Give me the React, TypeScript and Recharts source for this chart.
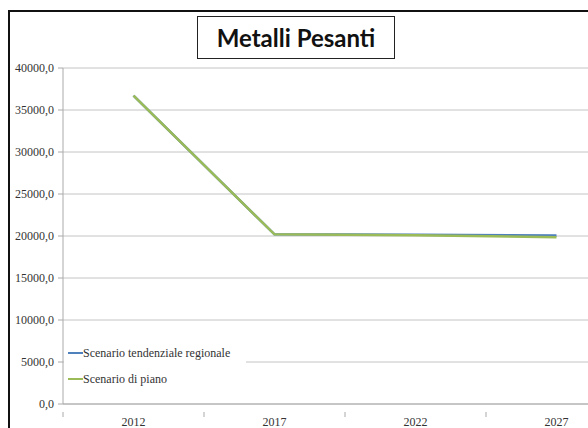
import React from 'react';
import { LineChart, Line, XAxis, YAxis, CartesianGrid, Legend } from 'recharts';

// anni e scenari (t)
const years = [2012, 2017, 2022, 2027];
const tendenziale = [36700, 20200, 20150, 20050];
const piano = [36700, 20200, 20100, 19850];
const yTicks = [0, 5000, 10000, 15000, 20000, 25000, 30000, 35000, 40000];
// limiti delle categorie sull'asse x (tacche tra un anno e l'altro)
const xDividers = [2009.5, 2014.5, 2019.5, 2024.5];

const BLUE = '#4f81bd';
const GREEN = '#9bbb59';
const SERIF = '"Liberation Serif", "Times New Roman", serif';

const data = years.map((y, i) => ({ year: y, tend: tendenziale[i], piano: piano[i] }));
const xTicks = [...xDividers, ...years].sort((a, b) => a - b);

const fmt = (v: number) => v.toFixed(1).replace('.', ',');

function XTick(props: any) {
  const { x, y, payload } = props;
  const v = payload.value as number;
  if (v % 1 !== 0) {
    return <line x1={x} x2={x} y1={y} y2={y + 5} stroke="#aaa" strokeWidth={1} />;
  }
  return (
    <text x={x} y={y + 14} textAnchor="middle" style={{ fontFamily: SERIF }} fontSize={12} fill="#333">
      {v}
    </text>
  );
}

function LegendBox() {
  const items = [
    { label: 'Scenario tendenziale regionale', color: BLUE },
    { label: 'Scenario di piano', color: GREEN },
  ];
  return (
    <div style={{ background: '#fff', padding: '6px 0 0 4px' }}>
      {items.map(it => (
        <div key={it.label} style={{ display: 'flex', alignItems: 'center', height: 26 }}>
          <span style={{ display: 'inline-block', width: 15, height: 2, background: it.color }} />
          <span style={{ fontFamily: SERIF, fontSize: 12, color: '#333' }}>{it.label}</span>
        </div>
      ))}
    </div>
  );
}

export default function App() {
  return (
    <div style={{ position: 'absolute', left: 0, top: 0, width: 588, height: 428, overflow: 'hidden', background: '#fff' }}>
      <div style={{ position: 'absolute', left: 8, top: 10, right: -10, bottom: -10, borderTop: '2.5px solid #111', borderLeft: '2.5px solid #111' }} />
      <LineChart
        width={640}
        height={428}
        data={data}
        margin={{ top: 68, right: 13, left: 0, bottom: 0 }}
        style={{ fontFamily: SERIF }}
      >
        <CartesianGrid vertical={false} stroke="#c4c4c4" />
        <XAxis
          dataKey="year"
          type="number"
          domain={[2009.5, 2029.5]}
          ticks={xTicks}
          interval={0}
          tickLine={false}
          axisLine={{ stroke: '#aaa' }}
          tick={<XTick />}
          height={24}
        />
        <YAxis
          domain={[0, 40000]}
          ticks={yTicks}
          interval={0}
          width={63}
          tickSize={5}
          tickMargin={4}
          tickFormatter={fmt}
          axisLine={{ stroke: '#aaa' }}
          tickLine={{ stroke: '#aaa' }}
          tick={{ fontSize: 12, fill: '#333', style: { fontFamily: SERIF } }}
        />
        <Legend
          layout="vertical"
          align="center"
          verticalAlign="middle"
          content={<LegendBox />}
          wrapperStyle={{ position: 'absolute', left: 64, top: 334, width: 182, height: 60 }}
        />
        <Line dataKey="tend" stroke={BLUE} strokeWidth={2.5} dot={false} isAnimationActive={false} />
        <Line dataKey="piano" stroke={GREEN} strokeWidth={2.5} dot={false} isAnimationActive={false} />
      </LineChart>
      <div
        style={{
          position: 'absolute', left: 197, top: 16, width: 198, height: 43, boxSizing: 'border-box',
          border: '1.5px solid #222', background: '#fff', display: 'flex', alignItems: 'center',
          justifyContent: 'center', fontFamily: 'Lato, "Noto Sans", sans-serif', fontWeight: 700,
          fontSize: 24, color: '#111',
        }}
      >
        Metalli Pesanti
      </div>
    </div>
  );
}
